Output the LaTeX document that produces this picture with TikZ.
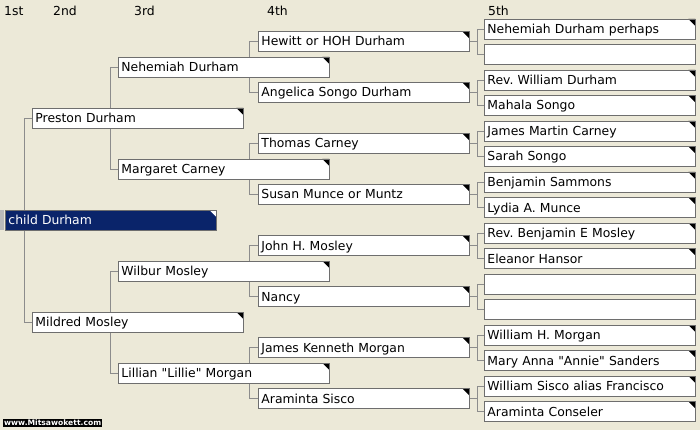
\documentclass[tikz,border=0pt]{standalone}
\usepackage{fontspec}
\usepackage{tikz}
\frenchspacing
\newfontfamily\treefont{DejaVu Sans}
\newfontfamily\markfont{DejaVu Sans Bold}
\definecolor{panel}{HTML}{ECE9D8}
\definecolor{boxline}{HTML}{6E6E6E}
\definecolor{linkgray}{HTML}{8C8C8C}
\definecolor{selnavy}{HTML}{0A246A}
\pgfdeclarelayer{behind}
\pgfsetlayers{behind,main}
\tikzset{
  corner/.style={path picture={\fill[#1] (path picture bounding box.north east)
      -- ++(-7,0) -- ++(7,7) -- cycle;}},
  plainbox/.style={draw=boxline, line width=0.9pt, fill=white, anchor=west,
      minimum height=20pt, text width=205pt, inner xsep=3pt, inner ysep=0pt,
      text height=9pt, text depth=0pt,
      font=\treefont\fontsize{12.4}{14}\selectfont},
  person/.style={plainbox, corner=black},
  link/.style={draw=linkgray, line width=0.8pt},
  gen/.style={anchor=west, inner sep=0pt, text height=9pt, text depth=0pt,
      font=\treefont\fontsize{12.4}{14}\selectfont}
}

\begin{document}
\begin{tikzpicture}[x=1pt,y=-1pt]
    \useasboundingbox (0,0) rectangle (700,430);
    \begin{pgfonlayer}{behind}
      \fill[panel] (0,0) rectangle (700,430);
    \end{pgfonlayer}

    % generation headings
    \node[gen] (g1) at (4,11.5) {1st};
    \node[gen] (g2) at (53,11.5) {2nd};
    \node[gen] (g3) at (134,11.5) {3rd};
    \node[gen] (g4) at (267,11.5) {4th};
    \node[gen] (g5) at (488,11.5) {5th};

    % 1st
    \fill[linkgray!60] (0,210) rectangle (3.5,230);
    \node[person, fill=selnavy, text=white, corner=white] (child) at (5,220) {child Durham};

    % 2nd
    \node[person] (pres) at (32,118) {Preston Durham};
    \node[person] (mild) at (32,322) {Mildred Mosley};

    % 3rd
    \node[person] (nehe) at (118,67) {Nehemiah Durham};
    \node[person] (marg) at (118,169) {Margaret Carney};
    \node[person] (wilb) at (118,271) {Wilbur Mosley};
    \node[person] (lill) at (118,373) {Lillian "Lillie" Morgan};

    % 4th
    \node[person] (hewi) at (258,41.5) {Hewitt or HOH Durham};
    \node[person] (ange) at (258,92.5) {Angelica Songo Durham};
    \node[person] (thom) at (258,143.5) {Thomas Carney};
    \node[person] (susa) at (258,194.5) {Susan Munce or Muntz};
    \node[person] (john) at (258,245.5) {John H. Mosley};
    \node[person] (nanc) at (258,296.5) {Nancy};
    \node[person] (jame) at (258,347.5) {James Kenneth Morgan};
    \node[person] (aram) at (258,398.5) {Araminta Sisco};

    % 5th
    \node[person] (nehp) at (484,29) {Nehemiah Durham perhaps};
    \node[plainbox] (emp1) at (484,54.5) {};
    \node[person] (will) at (484,80) {Rev. William Durham};
    \node[person] (maha) at (484,105.5) {Mahala Songo};
    \node[person] (jmca) at (484,131) {James Martin Carney};
    \node[person] (sara) at (484,156.5) {Sarah Songo};
    \node[person] (bens) at (484,182) {Benjamin Sammons};
    \node[person] (lydi) at (484,207.5) {Lydia A. Munce};
    \node[person] (rben) at (484,233) {Rev. Benjamin E Mosley};
    \node[person] (elea) at (484,258.5) {Eleanor Hansor};
    \node[plainbox] (emp2) at (484,284) {};
    \node[plainbox] (emp3) at (484,309.5) {};
    \node[person] (whmo) at (484,335) {William H. Morgan};
    \node[person] (mary) at (484,360.5) {Mary Anna "Annie" Sanders};
    \node[person] (wsis) at (484,386) {William Sisco alias Francisco};
    \node[person] (acon) at (484,411.5) {Araminta Conseler};

    \node[anchor=west, fill=black, text=white, inner xsep=1pt, inner ysep=1pt,
      font=\markfont\fontsize{7.6}{9}\selectfont] (site) at (3,423) {www.Mitsawokett.com};

    % connectors
    \begin{pgfonlayer}{behind}
      \foreach \a/\b in {pres/mild, nehe/marg, wilb/lill}
        \draw[link] (\a.west) -- ++(-8,0) |- (\b.west);
      \foreach \a/\b in {hewi/ange, thom/susa, john/nanc, jame/aram}
        \draw[link] (\a.west) -- ++(-9,0) |- (\b.west);
      \foreach \a/\b in {nehp/emp1, will/maha, jmca/sara, bens/lydi,
                         rben/elea, emp2/emp3, whmo/mary, wsis/acon}
        \draw[link] (\a.west) -- ++(-7,0) |- (\b.west);
      \foreach \a in {hewi, ange, thom, susa, john, nanc, jame, aram}
        \draw[link] (\a.east) -- ++(8,0);
    \end{pgfonlayer}
\end{tikzpicture}
\end{document}
